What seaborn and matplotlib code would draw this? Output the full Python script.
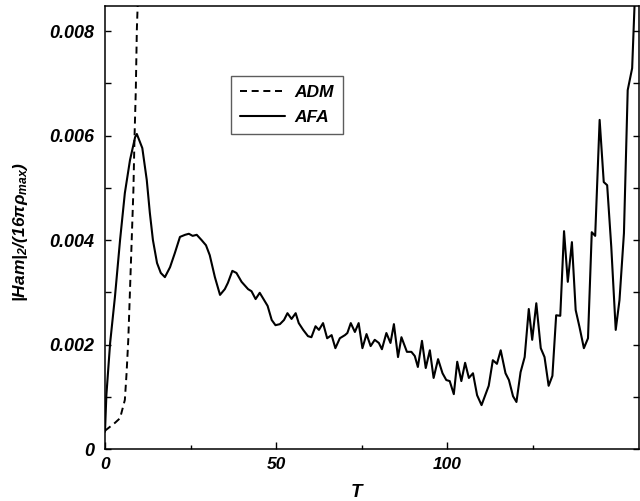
import numpy as np
import pandas as pd
import matplotlib
matplotlib.use("Agg")
import matplotlib.pyplot as plt
from matplotlib.ticker import FixedLocator
import seaborn as sns

# ADM run (blows up right after T~9)
adm_t = [0.0, 2.9, 4.4, 5.8, 6.3, 6.8, 7.3, 7.8, 8.3, 8.6, 9.0, 9.3, 9.6]
adm_v = [0.35, 0.50, 0.59, 0.94, 1.45, 2.09, 3.04, 4.00, 4.96, 5.91, 6.87, 8.02, 8.60]

# AFA run
afa_t = [0.0, 0.4, 1.5, 2.9, 4.4, 5.8, 7.3, 8.8, 9.3, 10.0, 10.9, 12.2, 13.1, 14.0,
         15.2, 16.3, 17.5, 19.0, 20.4, 21.9, 23.4, 24.5, 25.6, 26.8, 28.2, 29.5,
         30.6, 32.1, 33.6, 35.0, 35.9, 37.2, 38.4, 39.9, 41.8, 42.8, 44.0, 45.2,
         46.5, 47.5, 48.7, 49.8, 51.1, 52.3, 53.3, 54.5, 55.7, 56.6, 57.9, 59.3,
         60.3, 61.5, 62.5, 63.7, 64.9, 66.2, 67.3, 68.6, 70.1, 70.8, 71.8, 73.0,
         74.1, 75.2, 76.4, 77.6, 78.8, 80.0, 80.9, 82.2, 83.4, 84.4, 85.6, 86.6,
         88.2, 89.5, 90.5, 91.4, 92.6, 93.7, 94.9, 96.0, 97.3, 98.6, 99.7, 100.7,
         101.9, 102.9, 104.1, 105.2, 106.3, 107.5, 108.7, 110.0, 110.9, 112.1,
         113.3, 114.5, 115.6, 117.0, 118.0, 119.2, 120.2, 121.4, 122.6, 123.8,
         124.8, 126.0, 127.3, 128.4, 129.6, 130.7, 131.8, 133.0, 134.1, 135.2,
         136.4, 137.5, 138.6, 139.9, 141.1, 142.2, 143.2, 144.5, 145.7, 146.7,
         147.9, 149.2, 150.3, 151.6, 152.7, 154.0, 154.7]
afa_v = [0.33, 1.03, 2.03, 2.91, 4.00, 4.90, 5.53, 5.97, 6.03, 5.91, 5.76, 5.15, 4.52, 4.00,
         3.56, 3.37, 3.29, 3.48, 3.75, 4.06, 4.10, 4.12, 4.08, 4.10, 4.00, 3.90,
         3.71, 3.29, 2.95, 3.06, 3.18, 3.41, 3.37, 3.20, 3.06, 3.02, 2.87, 2.99,
         2.85, 2.74, 2.47, 2.37, 2.39, 2.47, 2.60, 2.49, 2.60, 2.41, 2.28, 2.16,
         2.14, 2.35, 2.28, 2.41, 2.12, 2.18, 1.93, 2.12, 2.18, 2.22, 2.41, 2.24,
         2.41, 1.93, 2.20, 1.97, 2.09, 2.03, 1.91, 2.22, 2.03, 2.39, 1.76, 2.14,
         1.86, 1.86, 1.78, 1.57, 2.07, 1.55, 1.89, 1.36, 1.72, 1.45, 1.32, 1.30,
         1.05, 1.67, 1.30, 1.65, 1.36, 1.45, 1.03, 0.84, 1.00, 1.21,
         1.70, 1.63, 1.89, 1.45, 1.32, 1.01, 0.90, 1.47, 1.76, 2.68,
         2.09, 2.79, 1.93, 1.76, 1.21, 1.40, 2.56, 2.55, 4.17, 3.20,
         3.96, 2.66, 2.34, 1.93, 2.12, 4.15, 4.08, 6.30, 5.11, 5.05,
         3.87, 2.28, 2.85, 4.13, 6.87, 7.29, 8.50]

adm = pd.DataFrame({"T": adm_t, "val": np.array(adm_v) * 1e-3})
afa = pd.DataFrame({"T": afa_t, "val": np.array(afa_v) * 1e-3})

sns.set_style("ticks")
plt.rcParams['font.family'] = ['Liberation Sans', 'DejaVu Sans']
plt.rcParams['text.color'] = 'black'
plt.rcParams['axes.labelcolor'] = 'black'
plt.rcParams['xtick.color'] = 'black'
plt.rcParams['ytick.color'] = 'black'
plt.rcParams['mathtext.fontset'] = 'custom'
plt.rcParams['mathtext.it'] = 'Liberation Sans:italic:bold'
plt.rcParams['mathtext.rm'] = 'Liberation Sans:italic:bold'

fig = plt.figure(figsize=(6.4, 5.01), dpi=100)
ax = fig.add_axes([105 / 640, 52 / 501, 534 / 640, 443 / 501])

sns.lineplot(data=adm, x="T", y="val", ax=ax, color="black", lw=1.4,
             linestyle=(0, (3.6, 2.4)), label="ADM", sort=False)
sns.lineplot(data=afa, x="T", y="val", ax=ax, color="black", lw=1.5,
             label="AFA", sort=False)

ax.set_xlim(0, 156)
ax.set_ylim(0, 0.00848)
ax.xaxis.set_major_locator(FixedLocator([0, 50, 100]))
ax.xaxis.set_minor_locator(FixedLocator([25, 75, 125]))
ax.yaxis.set_major_locator(FixedLocator([0, 0.002, 0.004, 0.006, 0.008]))
ax.yaxis.set_minor_locator(FixedLocator([0.001, 0.003, 0.005, 0.007]))
ax.set_xticklabels(["0", "50", "100"])
ax.set_yticklabels(["0", "0.002", "0.004", "0.006", "0.008"])

ax.tick_params(axis="both", which="both", direction="in", color="black",
               labelcolor="black", width=1.0)
ax.tick_params(axis="y", which="both", right=True, length=4, pad=8,
               labelsize=13)
ax.tick_params(axis="x", which="major", length=5, pad=6, labelsize=12.5)
ax.tick_params(axis="x", which="minor", length=3)
for lbl in ax.get_xticklabels() + ax.get_yticklabels():
    lbl.set_fontweight("bold")
    lbl.set_fontstyle("italic")

for s in ax.spines.values():
    s.set_linewidth(1.1)
    s.set_color("black")
    s.set_visible(True)

ax.set_xlabel("T", fontsize=13.5, fontweight="bold", fontstyle="italic")
ax.xaxis.set_label_coords(0.47, -0.08)
ax.set_ylabel(r"$|Ham|_2/(16\pi\rho_{max})$", fontsize=12.5)
ax.yaxis.set_label_coords(-0.14, 0.49)

leg = ax.legend(loc="upper left", bbox_to_anchor=(0.236, 0.842),
                frameon=True, fancybox=False, borderaxespad=0,
                handlelength=2.6, handletextpad=0.55, borderpad=0.5,
                labelspacing=0.6, prop={"size": 12.5, "weight": "bold",
                                        "style": "italic"})
leg.get_frame().set_edgecolor("#333333")
leg.get_frame().set_linewidth(1.0)

fig.savefig("out.png", dpi=100)
